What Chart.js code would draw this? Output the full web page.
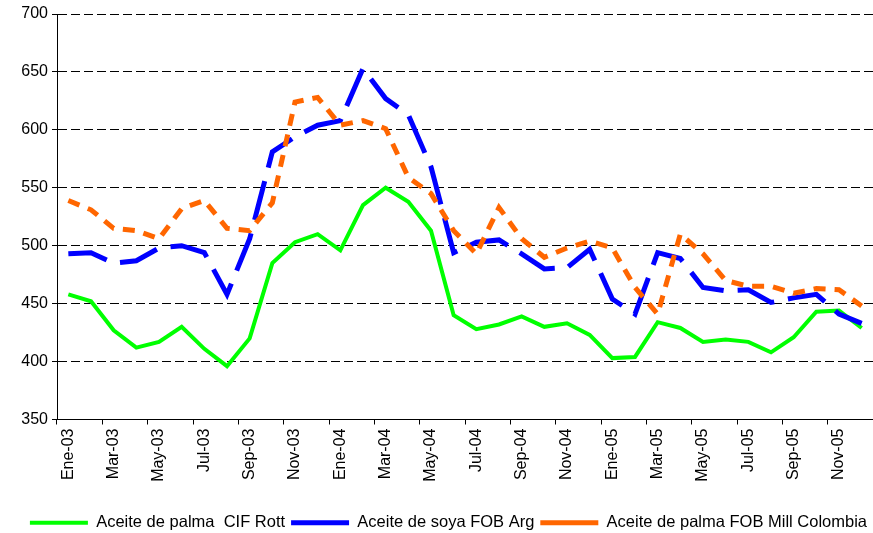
<!DOCTYPE html>
<html>
<head>
<meta charset="utf-8">
<script src="https://cdn.jsdelivr.net/npm/chart.js@4"></script>
<style>
  html, body { margin: 0; padding: 0; background: #fff; }
  #wrap { width: 873px; height: 533px; }
</style>
</head>
<body>
<div id="wrap"><canvas id="chart"></canvas></div>
<script>
// Monthly prices, Ene-03 .. Dic-05
const months = [
  'Ene-03', 'Feb-03', 'Mar-03', 'Abr-03', 'May-03', 'Jun-03', 'Jul-03', 'Ago-03', 'Sep-03', 'Oct-03', 'Nov-03', 'Dic-03',
  'Ene-04', 'Feb-04', 'Mar-04', 'Abr-04', 'May-04', 'Jun-04', 'Jul-04', 'Ago-04', 'Sep-04', 'Oct-04', 'Nov-04', 'Dic-04',
  'Ene-05', 'Feb-05', 'Mar-05', 'Abr-05', 'May-05', 'Jun-05', 'Jul-05', 'Ago-05', 'Sep-05', 'Oct-05', 'Nov-05', 'Dic-05'
];
const palmaCif = [458, 452, 427, 412, 417, 430, 411, 396, 420, 485, 503, 510, 496, 535, 550, 538, 513, 440, 428, 432, 439, 430, 433, 423, 403, 404, 434, 429, 417, 419, 417, 408, 421, 443, 444, 429];
const soyaFob = [493, 494, 485, 487, 498, 500, 494, 458, 506, 581, 594, 604, 608, 653, 627, 613, 568, 494, 503, 505, 493, 480, 481, 497, 454, 441, 494, 489, 464, 461, 462, 451, 455, 458, 441, 433];
const palmaCol = [539, 531, 515, 513, 506, 532, 539, 515, 513, 537, 624, 628, 604, 608, 601, 559, 545, 513, 493, 533, 506, 490, 498, 504, 498, 464, 441, 510, 493, 470, 465, 465, 459, 463, 462, 448];
const yTicks = [350, 400, 450, 500, 550, 600, 650, 700];

const font = "'Liberation Sans', Arial, sans-serif";

const ctx = document.getElementById('chart').getContext('2d');
new Chart(ctx, {
  type: 'line',
  data: {
    labels: months,
    datasets: [
      {
        label: 'Aceite de palma  CIF Rott',
        data: palmaCif,
        borderColor: '#00ff00',
        backgroundColor: '#00ff00',
        borderWidth: 4,
        order: 2
      },
      {
        label: 'Aceite de soya FOB Arg',
        data: soyaFob,
        borderColor: '#0000ff',
        backgroundColor: '#0000ff',
        borderWidth: 5,
        borderDash: [40, 14],
        order: 1
      },
      {
        label: 'Aceite de palma FOB Mill Colombia',
        data: palmaCol,
        borderColor: '#ff6600',
        backgroundColor: '#ff6600',
        borderWidth: 5,
        borderDash: [12, 9],
        order: 0
      }
    ]
  },
  options: {
    responsive: true,
    maintainAspectRatio: false,
    animation: false,
    elements: {
      point: { radius: 0 },
      line: { tension: 0, borderCapStyle: 'butt', borderJoinStyle: 'miter' }
    },
    layout: { padding: { top: 14, right: 0, left: 0, bottom: -8 } },
    plugins: {
      tooltip: { enabled: false },
      legend: {
        position: 'bottom',
        align: 'end',
        labels: {
          usePointStyle: true,
          pointStyle: 'line',
          pointStyleWidth: 58,
          boxHeight: 10,
          padding: 6,
          color: '#000',
          font: { family: font, size: 16.5 },
          sort: (a, b) => a.datasetIndex - b.datasetIndex
        }
      }
    },
    scales: {
      x: {
        offset: true,
        grid: {
          drawOnChartArea: false,
          drawTicks: true,
          tickLength: 5,
          tickColor: (c) => (c.index % 2 === 0 ? '#000' : 'rgba(0,0,0,0)'),
          offset: true
        },
        border: { display: true, color: '#000', width: 1 },
        ticks: {
          autoSkip: false,
          maxRotation: 90,
          minRotation: 90,
          padding: 4,
          color: '#000',
          font: { family: font, size: 16 },
          callback: (v, i) => (i % 2 === 0 ? months[i] : '')
        },
        afterFit: (scale) => {
          scale.height = 89;
          scale.paddingRight = 0;
          scale.paddingLeft = 0;
        }
      },
      y: {
        min: 350,
        max: 700,
        afterBuildTicks: (scale) => { scale.ticks = yTicks.map(v => ({ value: v })); },
        grid: {
          color: '#000',
          lineWidth: 1,
          tickLength: 5,
          tickColor: '#000'
        },
        border: { display: true, color: '#000', width: 1, dash: [9, 4] },
        ticks: {
          padding: 4,
          color: '#000',
          font: { family: font, size: 16 }
        },
        afterFit: (scale) => { scale.width = 57; }
      }
    }
  }
});
</script>
</body>
</html>
